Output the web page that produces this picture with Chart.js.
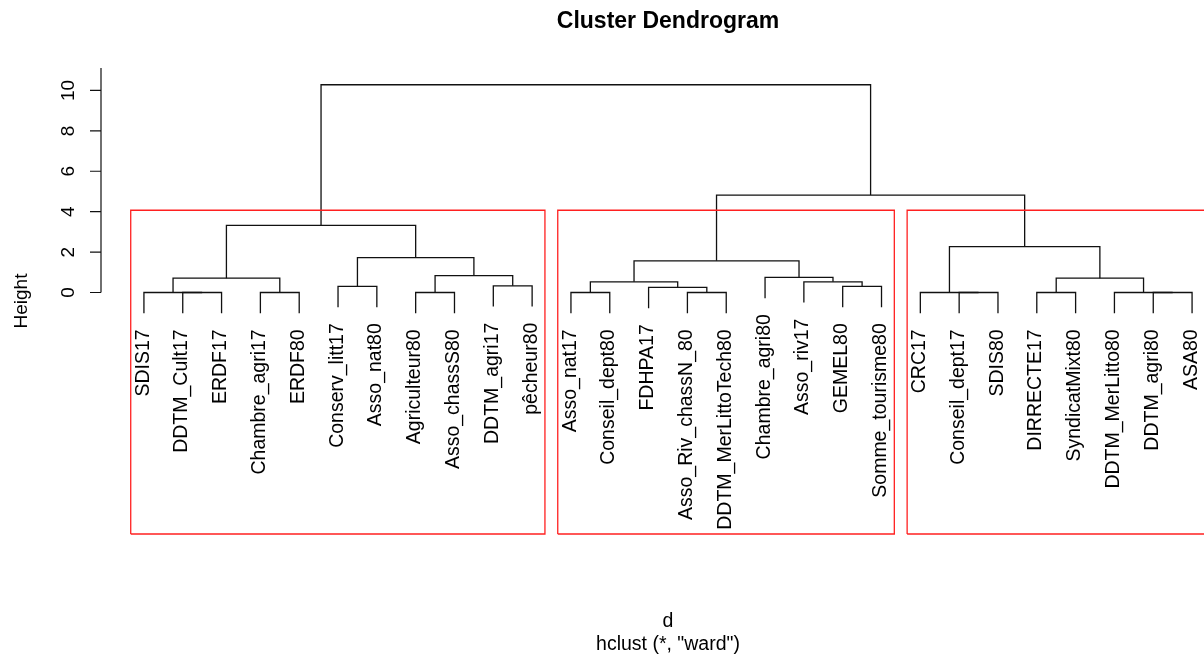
<!DOCTYPE html>
<html>
<head>
<meta charset="utf-8">
<title>Cluster Dendrogram</title>
<script src="https://cdn.jsdelivr.net/npm/chart.js@4"></script>
<style>
  html, body { margin: 0; padding: 0; overflow: hidden; background: #fff; }
  #wrap { width: 1240px; height: 657px; position: relative; }
</style>
</head>
<body>
<div id="wrap"><canvas id="dendro"></canvas></div>
<script>
// leaves, in the order they are plotted
const leafLabels = [
  'SDIS17', 'DDTM_Cult17', 'ERDF17', 'Chambre_agri17', 'ERDF80',
  'Conserv_litt17', 'Asso_nat80', 'Agriculteur80', 'Asso_chassS80', 'DDTM_agri17', 'pêcheur80',
  'Asso_nat17', 'Conseil_dept80', 'FDHPA17', 'Asso_Riv_chassN_80', 'DDTM_MerLittoTech80',
  'Chambre_agri80', 'Asso_riv17', 'GEMEL80', 'Somme_tourisme80',
  'CRC17', 'Conseil_dept17', 'SDIS80', 'DIRRECTE17', 'SyndicatMixt80',
  'DDTM_MerLitto80', 'DDTM_agri80', 'ASA80'
];

// merge steps (hclust style): negative = leaf position, positive = earlier step
const mergeLeft   = [-2, -1, -4, 2, -6, -8, -10, 6, 5, 4, -12, -15, -14, 11, -19, -18, -17, 14, -22, -21, -24, -27, -26, 21, 20, 18, 10];
const mergeRight  = [-3,  1, -5, 3, -7, -9, -11, 7, 8, 9, -13, -16,  12, 13, -20,  15,  16, 17, -23,  19, -25, -28,  22, 23, 24, 25, 26];
const mergeHeight = [0, 0, 0, 0.71, 0.30, 0, 0.33, 0.84, 1.73, 3.32, 0, 0, 0.25, 0.53, 0.30, 0.53, 0.75, 1.57, 0, 0, 0, 0, 0, 0.71, 2.27, 4.82, 10.28];

// rect.hclust(k = 3): number of leaves in each group
const clusterSizes = [11, 9, 8];
const yTicks = [0, 2, 4, 6, 8, 10];

const yMin = -11.95, yMax = 11.11;
const nLeaf = leafLabels.length;
const xMin = 1 - 0.04 * (nLeaf - 1), xMax = nLeaf + 0.04 * (nLeaf - 1);

const FONT = "'Liberation Sans', Arial, sans-serif";
const hang = 0.1 * Math.max(...mergeHeight);

// build the tree segments
const xPos = [];
const leafEnd = [];
function childX(c) { return c < 0 ? -c : xPos[c - 1]; }
const treeSets = mergeHeight.map((h, j) => {
  const a = mergeLeft[j], b = mergeRight[j];
  const xa = childX(a), xb = childX(b);
  const ya = a < 0 ? h - hang : mergeHeight[a - 1];
  const yb = b < 0 ? h - hang : mergeHeight[b - 1];
  if (a < 0) leafEnd[-a] = ya;
  if (b < 0) leafEnd[-b] = yb;
  xPos[j] = (xa + xb) / 2;
  return {
    data: [{x: xa, y: ya}, {x: xa, y: h}, {x: xb, y: h}, {x: xb, y: yb}],
    borderColor: '#111', borderWidth: 1.3, showLine: true, pointRadius: 0, tension: 0
  };
});

// red boxes round the groups
const sortedH = [...mergeHeight].sort((p, q) => q - p);
const k = clusterSizes.length;
const boxTop = (sortedH[k - 2] + sortedH[k - 1]) / 2;
let start = 0;
const boxSets = clusterSizes.map(n => {
  const x0 = start + 0.66, x1 = start + n + 0.33;
  start += n;
  return {
    data: [{x: x0, y: yMin}, {x: x0, y: boxTop}, {x: x1, y: boxTop}, {x: x1, y: yMin}, {x: x0, y: yMin}],
    borderColor: '#ff2020', borderWidth: 1.3, showLine: true, pointRadius: 0, tension: 0, clip: false
  };
});

function rotText(ctx, txt, x, y, align) {
  ctx.save();
  ctx.translate(x, y);
  ctx.rotate(-Math.PI / 2);
  ctx.textAlign = align;
  ctx.textBaseline = 'alphabetic';
  ctx.fillText(txt, 0, 0);
  ctx.restore();
}

const textPlugin = {
  id: 'rtext',
  afterDraw(chart) {
    const ctx = chart.ctx;
    const xs = chart.scales.x, ys = chart.scales.y;
    const area = chart.chartArea;
    const cx = (area.left + area.right) / 2;
    ctx.save();
    ctx.fillStyle = '#000';
    ctx.strokeStyle = '#111';
    ctx.lineWidth = 1.2;

    // title
    ctx.font = 'bold 23px ' + FONT;
    ctx.textAlign = 'center';
    ctx.textBaseline = 'alphabetic';
    ctx.fillText('Cluster Dendrogram', cx, 28);

    // y axis
    const ax = area.left - 1;
    const y0 = ys.getPixelForValue(yTicks[0]);
    ctx.beginPath();
    ctx.moveTo(ax, y0);
    ctx.lineTo(ax, area.top);
    yTicks.forEach(v => {
      const py = ys.getPixelForValue(v);
      ctx.moveTo(ax, py);
      ctx.lineTo(ax - 11, py);
    });
    ctx.stroke();
    ctx.font = '19px ' + FONT;
    yTicks.forEach(v => rotText(ctx, String(v), ax - 27, ys.getPixelForValue(v), 'center'));
    rotText(ctx, 'Height', 27, (area.top + area.bottom) / 2, 'center');

    // leaf labels
    ctx.font = '19.5px ' + FONT;
    leafLabels.forEach((lab, i) => {
      const px = xs.getPixelForValue(i + 1);
      const py = ys.getPixelForValue(leafEnd[i + 1]);
      rotText(ctx, lab, px + 4.6, py + 16, 'right');
    });

    // axis titles under the plot
    ctx.font = '19.5px ' + FONT;
    ctx.textAlign = 'center';
    ctx.fillText('d', cx, 627);
    ctx.fillText('hclust (*, "ward")', cx, 650);
    ctx.restore();
  }
};

new Chart(document.getElementById('dendro'), {
  type: 'scatter',
  data: { datasets: [...boxSets, ...treeSets] },
  options: {
    responsive: true,
    maintainAspectRatio: false,
    devicePixelRatio: 1,
    animation: false,
    layout: { padding: { left: 102, right: 6, top: 68, bottom: 123 } },
    plugins: { legend: { display: false }, tooltip: { enabled: false }, title: { display: false } },
    scales: {
      x: { type: 'linear', min: xMin, max: xMax, display: false },
      y: { type: 'linear', min: yMin, max: yMax, display: false }
    }
  },
  plugins: [textPlugin]
});
</script>
</body>
</html>
